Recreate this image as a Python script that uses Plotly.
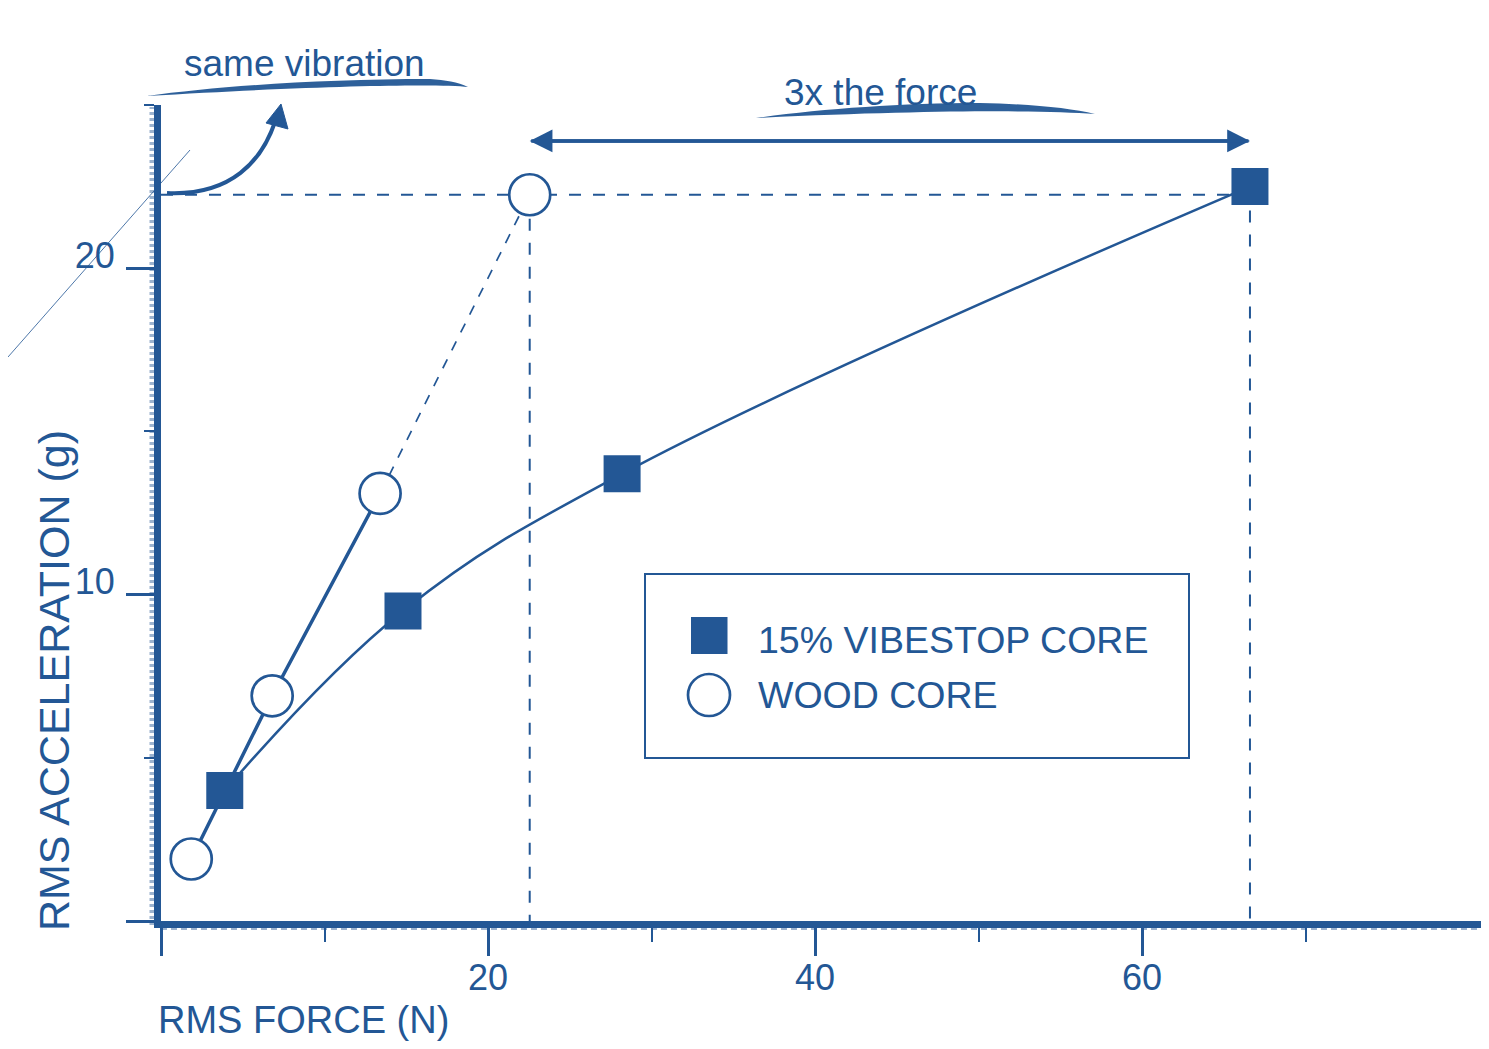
import plotly.graph_objects as go

# ---------------- data ----------------
FORCE_VIBESTOP = [3.9, 14.8, 28.2, 66.6]
ACC_VIBESTOP = [4.0, 9.5, 13.7, 22.5]
FORCE_WOOD = [1.85, 6.8, 13.4, 22.55]
ACC_WOOD = [1.9, 6.9, 13.1, 22.25]
NAME_VIBESTOP = "15% VIBESTOP CORE"
NAME_WOOD = "WOOD CORE"
X_TICKS = [0, 20, 40, 60]
X_TICK_TEXT = ["", "20", "40", "60"]
X_MINOR_TICKS = [10, 30, 50, 70]
Y_TICKS = [0, 10, 20]
Y_TICK_TEXT = ["", "10", "20"]
Y_MINOR_TICKS = [5, 15, 25]
X_TITLE = "RMS FORCE (N)"
Y_TITLE = "RMS ACCELERATION (g)"
NOTE_VIBRATION = "same vibration"
NOTE_FORCE = "3x the force"
ARROW_Y = 23.9

# ---------------- style ----------------
BLUE = "rgb(35,87,149)"
LIGHT = "rgba(35,87,149,0.45)"
FONT = "Liberation Sans, Arial, sans-serif"
PAGE_OFF = 8                      # default body margin of the html page
W, H = 1489 - 2 * PAGE_OFF, 1049 - 2 * PAGE_OFF
L, T, PW, PH = 161, 105, 1320, 816   # plot area in page pixels
X_RANGE = [0, 80.73]
Y_RANGE = [0, 25]


def px(x, y):
    """page pixel position -> paper coordinates"""
    return (x - L) / PW, (T + PH - y) / PH


def pt(x, y):
    a, b = px(x, y)
    return f"{a:.5f},{b:.5f}"


fig = go.Figure()

# dashed guide lines (same vibration level / force of both cores)
fig.add_trace(go.Scatter(
    x=[0, FORCE_VIBESTOP[-1], None, FORCE_WOOD[-1], FORCE_WOOD[-1], None,
       FORCE_VIBESTOP[-1], FORCE_VIBESTOP[-1]],
    y=[ACC_WOOD[-1], ACC_WOOD[-1], None, ACC_WOOD[-1], 0, None,
       ACC_VIBESTOP[-1], 0],
    mode="lines", line=dict(color=BLUE, width=2, dash="12px,12px"),
    hoverinfo="skip", showlegend=False))

# wood core: dashed extrapolation to last point
fig.add_trace(go.Scatter(
    x=FORCE_WOOD[2:], y=ACC_WOOD[2:], mode="lines",
    line=dict(color=BLUE, width=1.7, dash="10px,10px"),
    hoverinfo="skip", showlegend=False))

# vibestop curve
fig.add_trace(go.Scatter(
    x=FORCE_VIBESTOP, y=ACC_VIBESTOP, mode="lines",
    line=dict(color=BLUE, width=2.5, shape="spline", smoothing=1.1),
    hoverinfo="skip", showlegend=False))

# wood core solid segment
fig.add_trace(go.Scatter(
    x=FORCE_WOOD[:3], y=ACC_WOOD[:3], mode="lines",
    line=dict(color=BLUE, width=3.5),
    hoverinfo="skip", showlegend=False))

# markers
fig.add_trace(go.Scatter(
    x=FORCE_VIBESTOP, y=ACC_VIBESTOP, mode="markers", name=NAME_VIBESTOP,
    marker=dict(symbol="square", size=37, color=BLUE, line=dict(width=0)),
    cliponaxis=False, showlegend=False))
fig.add_trace(go.Scatter(
    x=FORCE_WOOD, y=ACC_WOOD, mode="markers", name=NAME_WOOD,
    marker=dict(symbol="circle", size=41, color="white",
                line=dict(color=BLUE, width=2.7)),
    cliponaxis=False, showlegend=False))

# ---------------- shapes ----------------
shapes = []
# legend box
x0, y0 = px(645, 758)
x1, y1 = px(1189, 574)
shapes.append(dict(type="rect", xref="paper", yref="paper", x0=x0, y0=y0, x1=x1, y1=y1,
                   line=dict(color=BLUE, width=2), fillcolor="white", layer="below"))
# legend symbols
x0, y0 = px(691, 654)
x1, y1 = px(727.5, 617)
shapes.append(dict(type="rect", xref="paper", yref="paper", x0=x0, y0=y0, x1=x1, y1=y1,
                   line=dict(width=0), fillcolor=BLUE))
x0, y0 = px(688, 716)
x1, y1 = px(730, 674)
shapes.append(dict(type="circle", xref="paper", yref="paper", x0=x0, y0=y0, x1=x1, y1=y1,
                   line=dict(color=BLUE, width=2.7), fillcolor="white"))

# curved arrow "same vibration"
shapes.append(dict(type="path", xref="paper", yref="paper",
                   path=f"M{pt(167,193)} C{pt(232,196)} {pt(262,160)} {pt(275,122)}",
                   line=dict(color=BLUE, width=4)))
shapes.append(dict(type="path", xref="paper", yref="paper",
                   path=f"M{pt(281,104)} L{pt(266,123)} L{pt(288,129)} Z",
                   line=dict(color=BLUE, width=1), fillcolor=BLUE))

# brush strokes under the notes
shapes.append(dict(type="path", xref="paper", yref="paper",
                   path=(f"M{pt(146,96)} C{pt(220,86)} {pt(320,79)} {pt(430,79)} "
                         f"C{pt(445,80)} {pt(458,82)} {pt(468,87)} "
                         f"C{pt(440,84)} {pt(330,85)} {pt(146,96)} Z"),
                   line=dict(width=0), fillcolor=BLUE, opacity=0.95))
shapes.append(dict(type="path", xref="paper", yref="paper",
                   path=(f"M{pt(756,118)} C{pt(820,109)} {pt(900,103)} {pt(980,103)} "
                         f"C{pt(1030,104)} {pt(1070,108)} {pt(1095,114)} "
                         f"C{pt(1040,110)} {pt(930,110)} {pt(756,118)} Z"),
                   line=dict(width=0), fillcolor=BLUE, opacity=0.95))

# stray construction line
x0, y0 = px(8, 357)
x1, y1 = px(190, 150)
shapes.append(dict(type="line", xref="paper", yref="paper", x0=x0, y0=y0, x1=x1, y1=y1,
                   line=dict(color=BLUE, width=1), opacity=0.8))

# sketchy hatching beside the axes
x0, y0 = px(152, 925)
x1, y1 = px(152, 107)
shapes.append(dict(type="line", xref="paper", yref="paper", x0=x0, y0=y0, x1=x1, y1=y1,
                   line=dict(color=LIGHT, width=5, dash="3px,3px")))
x0, y0 = px(161, 928)
x1, y1 = px(L + PW, 928)
shapes.append(dict(type="line", xref="paper", yref="paper", x0=x0, y0=y0, x1=x1, y1=y1,
                   line=dict(color=LIGHT, width=4, dash="6px,4px")))

# ---------------- annotations ----------------
ann = []
# double-headed arrow between the two forces
for tip, tail in ((FORCE_VIBESTOP[-1], FORCE_WOOD[-1]), (FORCE_WOOD[-1], FORCE_VIBESTOP[-1])):
    ann.append(dict(x=tip, y=ARROW_Y, ax=tail, ay=ARROW_Y, xref="x", yref="y",
                    axref="x", ayref="y", text="", showarrow=True, arrowhead=2,
                    arrowsize=1.3, arrowwidth=3.5, arrowcolor=BLUE))

a, b = px(304, 64)
ann.append(dict(x=a, y=b, xref="paper", yref="paper", text=NOTE_VIBRATION,
                showarrow=False, xanchor="center", yanchor="middle",
                font=dict(size=37, color=BLUE, family=FONT)))
a, b = px(880, 92)
ann.append(dict(x=a, y=b, xref="paper", yref="paper", text=NOTE_FORCE,
                showarrow=False, xanchor="center", yanchor="middle",
                font=dict(size=37, color=BLUE, family=FONT)))
a, b = px(756, 640)
ann.append(dict(x=a, y=b, xref="paper", yref="paper", text=NAME_VIBESTOP,
                showarrow=False, xanchor="left", yanchor="middle",
                font=dict(size=37.5, color=BLUE, family=FONT)))
a, b = px(756, 695)
ann.append(dict(x=a, y=b, xref="paper", yref="paper", text=NAME_WOOD,
                showarrow=False, xanchor="left", yanchor="middle",
                font=dict(size=37.5, color=BLUE, family=FONT)))
a, b = px(156, 1020)
ann.append(dict(x=a, y=b, xref="paper", yref="paper", text=X_TITLE,
                showarrow=False, xanchor="left", yanchor="middle",
                font=dict(size=38, color=BLUE, family=FONT)))
a, b = px(54, 681)
ann.append(dict(x=a, y=b, xref="paper", yref="paper", text=Y_TITLE,
                showarrow=False, xanchor="center", yanchor="middle", textangle=-90,
                font=dict(size=43, color=BLUE, family=FONT)))

fig.update_layout(
    width=W, height=H,
    margin=dict(l=L - PAGE_OFF, r=W - (L - PAGE_OFF) - PW, t=T - PAGE_OFF,
                b=H - (T - PAGE_OFF) - PH, pad=0),
    paper_bgcolor="white", plot_bgcolor="white",
    font=dict(family=FONT, color=BLUE, size=36),
    showlegend=False,
    shapes=shapes, annotations=ann,
    xaxis=dict(range=X_RANGE, showgrid=False, zeroline=False,
               showline=True, linecolor=BLUE, linewidth=7,
               ticks="outside", tickvals=X_TICKS, ticktext=X_TICK_TEXT,
               ticklen=28, tickwidth=2.5, tickcolor=BLUE,
               ticklabelstandoff=-9,
               tickfont=dict(size=36, color=BLUE, family=FONT),
               minor=dict(tickvals=X_MINOR_TICKS, ticks="outside", ticklen=14,
                          tickwidth=2, tickcolor=BLUE)),
    yaxis=dict(range=Y_RANGE, showgrid=False, zeroline=False,
               showline=True, linecolor=BLUE, linewidth=7,
               ticks="outside", tickvals=Y_TICKS, ticktext=Y_TICK_TEXT,
               ticklen=28, tickwidth=2.5, tickcolor=BLUE,
               ticklabelshift=-13, ticklabelstandoff=4,
               tickfont=dict(size=36, color=BLUE, family=FONT),
               minor=dict(tickvals=Y_MINOR_TICKS, ticks="outside", ticklen=10,
                          tickwidth=2, tickcolor=BLUE)),
)

fig.write_html("out.html")
